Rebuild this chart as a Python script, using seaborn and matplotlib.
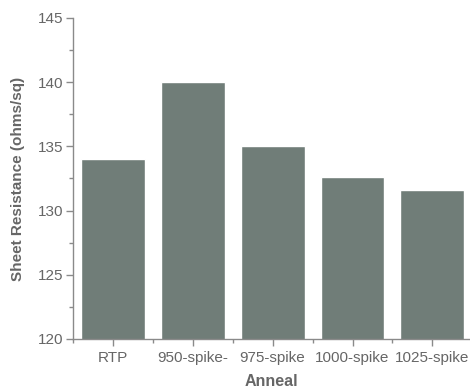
import matplotlib
matplotlib.use("Agg")
import matplotlib.pyplot as plt
from matplotlib.ticker import MultipleLocator, FixedLocator
import seaborn as sns
import pandas as pd

anneals = ["RTP", "950-spike-", "975-spike", "1000-spike", "1025-spike"]
resistance = [134.0, 140.0, 135.0, 132.6, 131.6]

df = pd.DataFrame({"Anneal": anneals, "Sheet Resistance": resistance})

sns.set_style("white")
plt.rcParams["font.family"] = ["Liberation Sans", "DejaVu Sans"]

grey_text = "#666666"
axis_col = "#8a8a8a"
bar_col = "#707d78"

fig = plt.figure(figsize=(4.7, 3.91), dpi=100)
ax = fig.add_axes([0.155, 0.133, 0.845, 0.821])

sns.barplot(data=df, x="Anneal", y="Sheet Resistance", color=bar_col,
            saturation=1, width=0.8, ax=ax)

ax.set_ylim(120, 145)
ax.set_xlim(-0.5, 4.47)
ax.yaxis.set_major_locator(MultipleLocator(5))
ax.yaxis.set_minor_locator(MultipleLocator(2.5))
ax.xaxis.set_minor_locator(FixedLocator([-0.5, 0.5, 1.5, 2.5, 3.5]))

for side in ["top", "right"]:
    ax.spines[side].set_visible(False)
for side in ["left", "bottom"]:
    ax.spines[side].set_color(axis_col)
    ax.spines[side].set_linewidth(1.0)

ax.tick_params(axis="both", which="both", bottom=True, left=True,
               top=False, right=False)
ax.tick_params(axis="both", which="major", direction="out", length=5,
               width=1, color=axis_col, labelcolor=grey_text, labelsize=11)
ax.tick_params(axis="both", which="minor", direction="out", length=3,
               width=1, color=axis_col)
ax.tick_params(axis="x", which="major", pad=4)
ax.tick_params(axis="y", which="major", pad=2)

ax.set_xlabel("Anneal", fontsize=11.5, fontweight="bold", color=grey_text,
              labelpad=6)
ax.set_ylabel("Sheet Resistance (ohms/sq)", fontsize=11, fontweight="bold",
              color=grey_text, labelpad=9)

fig.savefig("out.png", dpi=100, facecolor="white")
